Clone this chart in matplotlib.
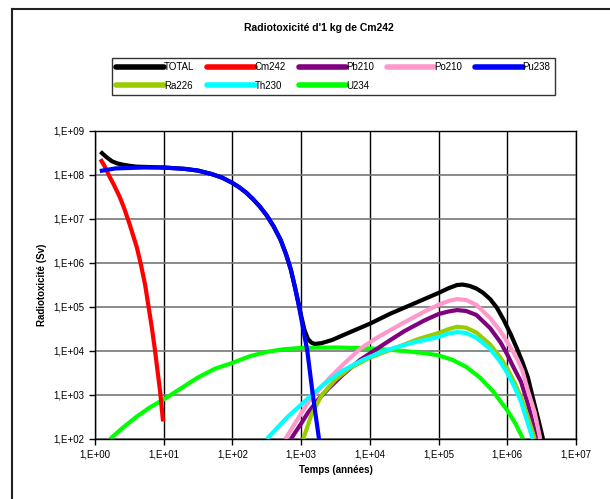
import matplotlib.pyplot as plt
import numpy as np
from matplotlib.lines import Line2D
from matplotlib.ticker import FixedLocator, FuncFormatter, NullLocator

plt.rcParams['font.family'] = ['Liberation Sans', 'DejaVu Sans']

# log10(time in years) / log10(radiotoxicity in Sv) for each series
total_lt = [0.08, 0.12, 0.18, 0.25, 0.33, 0.42, 0.5, 0.6, 0.8, 1.0, 1.3, 1.5, 1.7, 1.85, 2.0, 2.1,
            2.2, 2.3, 2.4, 2.5, 2.6, 2.7, 2.78, 2.85, 2.91, 2.96, 3.0, 3.05, 3.1, 3.15, 3.2, 3.3,
            3.45, 3.7, 4.0, 4.3, 4.6, 5.0, 5.15, 5.27, 5.35, 5.45, 5.55, 5.65, 5.75, 5.85, 5.95,
            6.05, 6.15, 6.22, 6.3, 6.37, 6.45, 6.52]
total_lv = [8.53, 8.47, 8.39, 8.31, 8.26, 8.23, 8.21, 8.19, 8.18, 8.17, 8.14, 8.1, 8.02, 7.94, 7.82, 7.72,
            7.6, 7.45, 7.28, 7.08, 6.83, 6.53, 6.2, 5.85, 5.45, 5.1, 4.8, 4.47, 4.27, 4.19, 4.16, 4.18,
            4.25, 4.42, 4.62, 4.85, 5.05, 5.32, 5.43, 5.5, 5.51, 5.48, 5.42, 5.32, 5.18, 4.98, 4.7,
            4.38, 4.02, 3.75, 3.4, 2.95, 2.45, 2.0]

cm242_lt = [0.08, 0.14, 0.2, 0.28, 0.36, 0.43, 0.5, 0.56, 0.61, 0.67, 0.73, 0.78, 0.83, 0.87, 0.91,
            0.95, 0.99]
cm242_lv = [8.36, 8.2, 8.0, 7.76, 7.5, 7.22, 6.9, 6.6, 6.35, 5.95, 5.5, 5.0, 4.5, 4.05, 3.55,
            3.05, 2.4]

pb210_lt = [2.85, 3.0, 3.1, 3.25, 3.4, 3.6, 3.86, 4.2, 4.5, 4.8, 5.0, 5.15, 5.27, 5.4, 5.55, 5.75,
            5.9, 6.0, 6.1, 6.2, 6.3, 6.43]
pb210_lv = [2.0, 2.35, 2.6, 2.9, 3.15, 3.45, 3.8, 4.15, 4.45, 4.7, 4.84, 4.9, 4.93, 4.91, 4.82, 4.52,
            4.2, 3.92, 3.6, 3.3, 2.8, 2.0]

po210_lt = [2.77, 2.9, 3.0, 3.13, 3.25, 3.42, 3.65, 3.86, 4.1, 4.5, 4.8, 5.0, 5.15, 5.27, 5.4, 5.55,
            5.75, 5.9, 6.04, 6.15, 6.22, 6.3, 6.4, 6.48]
po210_lv = [2.0, 2.33, 2.58, 2.9, 3.1, 3.4, 3.75, 4.05, 4.3, 4.65, 4.9, 5.05, 5.14, 5.18, 5.16, 5.05,
            4.75, 4.45, 4.1, 3.8, 3.55, 3.1, 2.6, 2.0]

pu238_lt = [0.07, 0.3, 0.7, 1.0, 1.3, 1.5, 1.7, 1.85, 2.0, 2.1, 2.2, 2.3, 2.4, 2.5, 2.6, 2.7, 2.78,
            2.85, 2.91, 2.97, 3.03, 3.09, 3.17, 3.26]
pu238_lv = [8.09, 8.15, 8.17, 8.17, 8.14, 8.1, 8.02, 7.94, 7.82, 7.72, 7.6, 7.45, 7.28, 7.08, 6.83,
            6.53, 6.2, 5.85, 5.45, 5.0, 4.5, 4.0, 3.0, 2.0]

ra226_lt = [3.03, 3.15, 3.3, 3.5, 3.7, 4.0, 4.34, 4.7, 5.0, 5.15, 5.27, 5.4, 5.55, 5.75, 5.9, 6.0,
            6.1, 6.2, 6.3, 6.4]
ra226_lv = [2.0, 2.55, 3.0, 3.35, 3.6, 3.85, 4.05, 4.27, 4.41, 4.5, 4.55, 4.53, 4.42, 4.15, 3.85, 3.6,
            3.3, 2.95, 2.5, 2.0]

th230_lt = [2.5, 2.65, 2.8, 3.0, 3.15, 3.35, 3.6, 3.9, 4.2, 4.6, 5.0, 5.15, 5.27, 5.4, 5.55, 5.75,
            5.9, 6.0, 6.1, 6.2, 6.28, 6.37]
th230_lv = [2.0, 2.25, 2.5, 2.78, 3.0, 3.27, 3.55, 3.8, 4.0, 4.18, 4.32, 4.4, 4.43, 4.41, 4.3, 4.05,
            3.75, 3.5, 3.2, 2.85, 2.45, 2.0]

u234_lt = [0.22, 0.4, 0.6, 0.8, 1.0, 1.25, 1.5, 1.75, 2.0, 2.25, 2.5, 2.75, 3.0, 3.5, 4.0, 4.5,
           4.8, 5.0, 5.2, 5.4, 5.6, 5.8, 6.0, 6.12, 6.23]
u234_lv = [2.0, 2.25, 2.5, 2.72, 2.9, 3.15, 3.4, 3.6, 3.73, 3.88, 3.98, 4.04, 4.07, 4.08, 4.06, 4.0,
           3.95, 3.9, 3.8, 3.64, 3.4, 3.07, 2.65, 2.35, 2.0]

series = [
    ('TOTAL', total_lt, total_lv, '#000000', 3),
    ('Cm242', cm242_lt, cm242_lv, '#FF0000', 3),
    ('Pb210', pb210_lt, pb210_lv, '#800080', 3),
    ('Po210', po210_lt, po210_lv, '#FF99CC', 3),
    ('Pu238', pu238_lt, pu238_lv, '#0000FF', 6),
    ('Ra226', ra226_lt, ra226_lv, '#99CC00', 3),
    ('Th230', th230_lt, th230_lv, '#00FFFF', 3),
    ('U234', u234_lt, u234_lv, '#00FF00', 2.5),
]

fig = plt.figure(figsize=(6.1, 4.99), dpi=100)
ax = fig.add_axes([95 / 610, 1 - 439 / 499, 481 / 610, 308 / 499])

handles = {}
for name, lt, lv, col, z in series:
    t = 10 ** np.array(lt)
    v = 10 ** np.array(lv)
    h, = ax.plot(t, v, color=col, lw=3.0, solid_capstyle='butt', solid_joinstyle='round',
                 label=name, zorder=z)
    handles[name] = h

ax.set_xscale('log')
ax.set_yscale('log')
ax.set_xlim(1, 1e7)
ax.set_ylim(1e2, 1e9)

ax.xaxis.set_major_locator(FixedLocator([10.0 ** k for k in range(8)]))
ax.yaxis.set_major_locator(FixedLocator([10.0 ** k for k in range(2, 10)]))
ax.xaxis.set_minor_locator(NullLocator())
ax.yaxis.set_minor_locator(NullLocator())
fmt = FuncFormatter(lambda v, pos: '1,E+%02d' % int(round(np.log10(v))))
ax.xaxis.set_major_formatter(fmt)
ax.yaxis.set_major_formatter(fmt)
ax.tick_params(labelsize=7, length=4, width=1, direction='out', colors='black')

ax.grid(True, axis='x', color='black', lw=1.0)
ax.grid(True, axis='y', color='#777777', lw=1.2)
ax.set_axisbelow(True)
for s in ax.spines.values():
    s.set_linewidth(1.0)
    s.set_color('black')

ax.set_xlabel('Temps (années)', fontsize=7, fontweight='bold', labelpad=4)
ax.set_ylabel('Radiotoxicité (Sv)', fontsize=7, fontweight='bold', labelpad=5)

fig.text(319 / 610, 1 - 28 / 499, "Radiotoxicité d'1 kg de Cm242", fontsize=7.5,
         fontweight='bold', ha='center', va='center')

# legend filled column by column, so order entries to read row-wise
leg_order = ['TOTAL', 'Ra226', 'Cm242', 'Th230', 'Pb210', 'U234', 'Po210', 'Pu238']
leg = fig.legend(handles=[handles[n] for n in leg_order], loc='upper left',
                 bbox_to_anchor=(112 / 610, 1 - 58 / 499),
                 ncol=5, fontsize=7, frameon=True, fancybox=False, handlelength=4.9,
                 handletextpad=0.0, columnspacing=1.3, borderpad=0.45, labelspacing=0.85,
                 borderaxespad=0)
leg.get_frame().set_edgecolor('black')
leg.get_frame().set_linewidth(1.0)
for h in leg.legend_handles:
    h.set_linewidth(4)
    h.set_solid_capstyle('round')

# chart border (left and top edges)
fig.add_artist(Line2D([12 / 610, 12 / 610], [-0.1, 1 - 9 / 499], transform=fig.transFigure,
                      color='#222222', lw=1.5))
fig.add_artist(Line2D([12 / 610, 1.1], [1 - 9 / 499, 1 - 9 / 499], transform=fig.transFigure,
                      color='#222222', lw=1.5))

fig.savefig('out.png', dpi=100)
